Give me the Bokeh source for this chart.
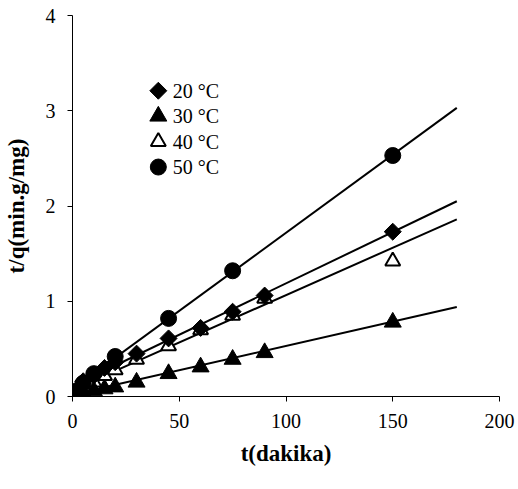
import math
from bokeh.plotting import figure
from bokeh.models import Range1d, FixedTicker
from bokeh.core.properties import value
from bokeh.embed import file_html
from bokeh.resources import INLINE

# Data (t in minutes, t/q in min.g/mg)
t_main = [1, 2, 5, 10, 15, 20, 30, 45, 60, 75, 90, 150]
q20 = [0.03, 0.06, 0.16, 0.22, 0.30, 0.36, 0.45, 0.61, 0.72, 0.89, 1.06, 1.73]
q30 = [0.01, 0.02, 0.04, 0.06, 0.08, 0.10, 0.15, 0.24, 0.31, 0.39, 0.46, 0.78]
q40 = [0.02, 0.05, 0.10, 0.15, 0.22, 0.28, 0.39, 0.53, 0.70, 0.85, 1.03, 1.42]
t50 = [1, 2, 5, 10, 20, 45, 75, 150]
q50 = [0.03, 0.06, 0.14, 0.24, 0.42, 0.82, 1.32, 2.53]

# Fitted lines (endpoints)
fit_t = [0, 180]
fit20 = [0.11, 2.05]
fit30 = [0.02, 0.94]
fit40 = [0.07, 1.86]
fit50 = [0.08, 3.03]

labels = ["20 °C", "30 °C", "40 °C", "50 °C"]
x_ticks = [0, 50, 100, 150, 200]
y_ticks = [0, 1, 2, 3, 4]

SERIF = "Liberation Serif"

# legend placement (data-space anchor of the legend block, and row step)
LEG_X = 40.2
LEG_TEXT_X = 47.0
LEG_Y0 = 3.21
LEG_STEP = 0.267

p = figure(width=518, height=489, output_backend="svg", toolbar_location=None,
           x_range=Range1d(0, 200), y_range=Range1d(0, 4),
           min_border_left=71, min_border_right=19, min_border_top=15, min_border_bottom=93)
p.outline_line_color = None
p.background_fill_color = "white"
p.border_fill_color = "white"
p.xgrid.visible = False
p.ygrid.visible = False

for ax in (p.xaxis[0], p.yaxis[0]):
    ax.axis_line_color = "black"
    ax.axis_line_width = 1
    ax.major_tick_line_color = "black"
    ax.major_tick_out = 5
    ax.major_tick_in = 0
    ax.minor_tick_line_color = None
    ax.major_label_text_font = SERIF
    ax.major_label_text_font_size = "20px"
    ax.major_label_text_color = "black"
    ax.axis_label_text_font = SERIF
    ax.axis_label_text_font_size = "23px"
    ax.axis_label_text_font_style = "bold"
    ax.axis_label_text_color = "black"

p.xaxis.ticker = FixedTicker(ticks=x_ticks)
p.yaxis.ticker = FixedTicker(ticks=y_ticks)
p.xaxis.axis_label = "t(dakika)"
p.yaxis.axis_label = "t/q(min.g/mg)"
p.xaxis.major_label_standoff = 12
p.xaxis.axis_label_standoff = 10
p.yaxis.major_label_standoff = 12
p.yaxis.axis_label_standoff = 14

for fy in (fit20, fit30, fit40, fit50):
    p.line(fit_t, fy, line_color="black", line_width=2)

styles = [
    dict(marker="square", angle=math.pi / 4, size=12, fill_color="black", line_color="black"),
    dict(marker="triangle", size=17, fill_color="black", line_color="black"),
    dict(marker="triangle", size=15, line_width=2, fill_color="white", line_color="black"),
    dict(marker="circle", size=16, fill_color="black", line_color="black"),
]
series = [(t_main, q20), (t_main, q30), (t_main, q40), (t50, q50)]

# draw open triangles first so filled markers sit on top
for idx in (2, 0, 1, 3):
    xs, ys = series[idx]
    p.scatter(xs, ys, **styles[idx])

# legend drawn as marks + text
for i, (lab, st) in enumerate(zip(labels, styles)):
    yy = LEG_Y0 - i * LEG_STEP
    p.scatter([LEG_X], [yy], **st)
    p.text([LEG_TEXT_X], [yy], text=[lab], text_font=value(SERIF),
           text_font_size="20px", text_baseline="middle", text_align="left",
           text_color="black")

open("out.html", "w").write(file_html(p, INLINE))
